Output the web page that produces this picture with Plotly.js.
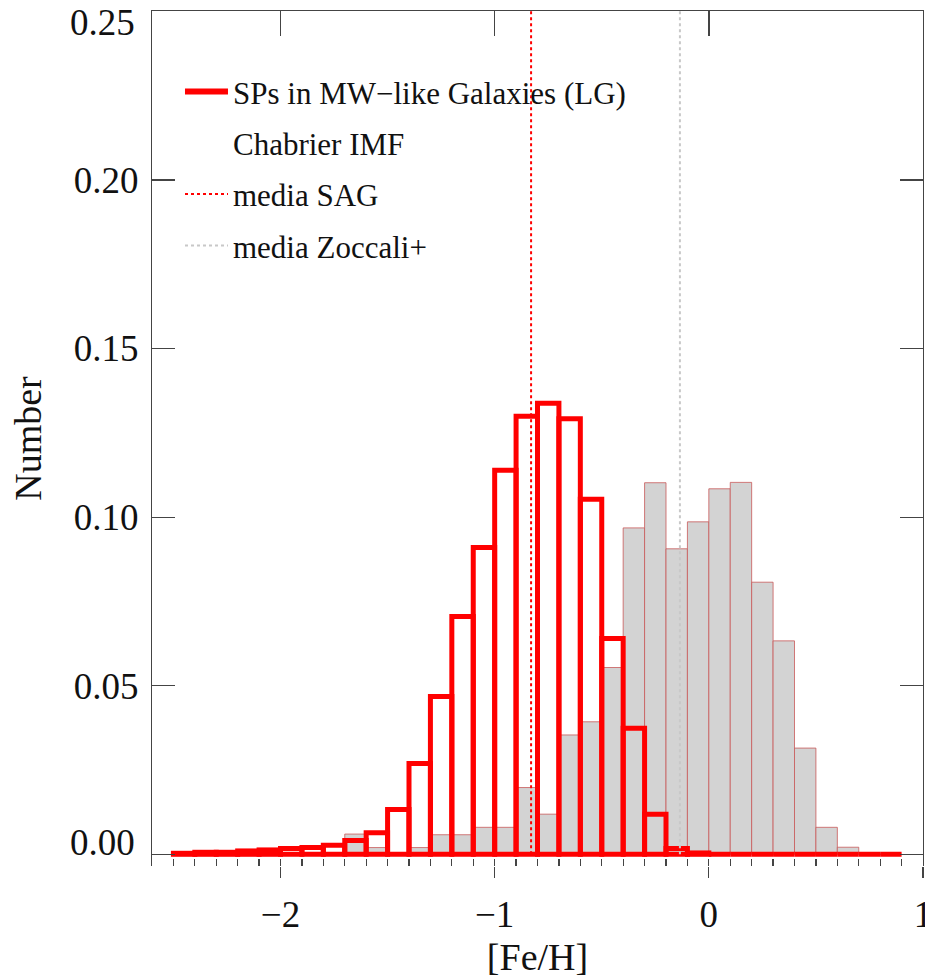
<!DOCTYPE html>
<html><head><meta charset="utf-8">
<script src="https://cdn.plot.ly/plotly-3.0.1.min.js"></script>
<style>html,body{margin:0;padding:0;background:#fff;} #chart{width:925px;height:978px;}</style>
</head><body><div id="chart"></div>
<script>
// [Fe/H] bin centres (bin width 0.1)
const binCenters = [-2.45,-2.35,-2.25,-2.15,-2.05,-1.95,-1.85,-1.75,-1.65,-1.55,-1.45,-1.35,-1.25,-1.15,-1.05,-0.95,-0.85,-0.75,-0.65,-0.55,-0.45,-0.35,-0.25,-0.15,-0.05,0.05,0.15,0.25,0.35,0.45,0.55,0.65,0.75,0.85];
// SAG model (red outlined histogram)
const sagValues = [0.0003,0.0006,0.0006,0.0010,0.0013,0.0017,0.0020,0.0027,0.0041,0.0064,0.0133,0.0269,0.0468,0.0705,0.0910,0.1139,0.1299,0.1338,0.1292,0.1053,0.0640,0.0374,0.0119,0.0017,0.0004,0,0,0,0,0,0,0,0,0];
// Zoccali+ observations (grey histogram)
const zoccaliValues = [0,0,0,0,0,0,0,0,0.0060,0.0020,0.0003,0.0020,0.0058,0.0058,0.0080,0.0080,0.0198,0.0119,0.0354,0.0393,0.0554,0.0968,0.1102,0.0906,0.0986,0.1084,0.1103,0.0807,0.0633,0.0315,0.0080,0.0021,0,0];
const meanSAG = -0.83;
const meanZoccali = -0.135;
const meanLineY = [0, 0.25];
const binWidth = 0.1;
const xRange = [-2.6, 1.0];
const yRange = [-0.00347, 0.2501];
const xTickVals = [-2,-1,0,1];
const xTickText = ['\u22122','\u22121','0','1'];
const xMinorTickVals = [-2.5,-2.4,-2.3,-2.2,-2.1,-2.0,-1.9,-1.8,-1.7,-1.6,-1.5,-1.4,-1.3,-1.2,-1.1,-1.0,-0.9,-0.8,-0.7,-0.6,-0.5,-0.4,-0.3,-0.2,-0.1,0,0.1,0.2,0.3,0.4,0.5,0.6,0.7,0.8,0.9];
const xTopTickVals = [-2,-1,0];
const yTickVals = [0,0.05,0.10,0.15,0.20,0.25];
const seriesNames = ['SPs in MW\u2212like Galaxies (LG)','Chabrier IMF','media SAG','media Zoccali+'];

const FONT = 'Liberation Serif, Times New Roman, serif';
const AX = '#444';
const TXT = '#111';

// the two end labels sit inside the frame in the reference, so they are placed as annotations
const lastY = yTickVals.length - 1;
const yTickText = yTickVals.map((v, i) => (i === 0 || i === lastY) ? '' : v.toFixed(2));
const edgeLabels = [
  {val: yTickVals[0], shift: 12},
  {val: yTickVals[lastY], shift: -11.5}
].map(e => ({xref:'paper', yref:'y', x:0, y:e.val, xanchor:'right', yanchor:'middle', xshift:-15, yshift:e.shift,
             text:e.val.toFixed(2), showarrow:false, font:{family:FONT, size:37, color:TXT}}));

const traces = [
  {type:'bar', x:binCenters, y:zoccaliValues, width:binWidth, showlegend:false, hoverinfo:'x+y',
   marker:{color:'#d3d3d3', line:{color:'rgba(200,90,90,0.8)', width:1}}},
  {type:'bar', x:binCenters, y:sagValues, width:binWidth, showlegend:false, hoverinfo:'x+y',
   marker:{color:'rgba(0,0,0,0)', line:{color:'#ff0000', width:5}}},
  {type:'scatter', mode:'lines', x:[null], y:[null], name:seriesNames[0], legendgroup:'a', legendrank:1,
   line:{color:'#ff0000', width:6}},
  {type:'scatter', mode:'lines', x:[null], y:[null], name:seriesNames[1], legendgroup:'b', legendrank:2,
   line:{color:'rgba(0,0,0,0)', width:1}},
  {type:'scatter', mode:'lines', xaxis:'x2', x:[meanSAG, meanSAG], y:meanLineY, name:seriesNames[2], legendgroup:'c', legendrank:3,
   line:{color:'#ff0000', width:2, dash:'dot'}},
  {type:'scatter', mode:'lines', xaxis:'x3', x:[meanZoccali, meanZoccali], y:meanLineY, name:seriesNames[3], legendgroup:'d', legendrank:4,
   line:{color:'#c8c8c8', width:2, dash:'dot'}}
];

const layout = {
  width:925, height:978,
  margin:{l:152, r:2, t:11, b:112, autoexpand:false},
  paper_bgcolor:'#fff', plot_bgcolor:'#fff',
  barmode:'overlay', bargap:0,
  font:{family:FONT, color:TXT, size:37},
  showlegend:true,
  legend:{x:0.0363, xanchor:'left', y:0.937, yanchor:'top', bgcolor:'rgba(0,0,0,0)', borderwidth:0,
          font:{family:FONT, size:31, color:TXT}, itemwidth:43, tracegroupgap:8, traceorder:'grouped'},
  annotations: edgeLabels,
  xaxis:{range:xRange, tickmode:'array', tickvals:xTickVals, ticktext:xTickText,
         ticks:'outside', ticklen:11, tickwidth:1.2, tickcolor:AX, showline:false, showgrid:false, zeroline:false,
         tickfont:{family:FONT, size:37, color:TXT}, ticklabelstandoff:5, ticklabeloverflow:'allow',
         title:{text:'[Fe/H]', font:{family:FONT, size:38, color:TXT}, standoff:11}},
  xaxis2:{overlaying:'x', range:xRange, anchor:'y', side:'bottom', tickmode:'array', tickvals:xMinorTickVals,
          ticks:'inside', ticklen:7, tickwidth:1.2, tickcolor:AX, showticklabels:false, showline:false,
          showgrid:false, zeroline:false},
  xaxis3:{overlaying:'x', range:xRange, anchor:'y', side:'top', tickmode:'array', tickvals:xTopTickVals,
          ticks:'inside', ticklen:25, tickwidth:1.4, tickcolor:AX, showticklabels:false, showline:true,
          linecolor:AX, linewidth:1.2, showgrid:false, zeroline:false},
  yaxis:{range:yRange, tickmode:'array', tickvals:yTickVals, ticktext:yTickText,
         ticks:'inside', ticklen:23, tickwidth:1.2, tickcolor:AX, showline:true, linecolor:AX, linewidth:1.2,
         mirror:'ticks', showgrid:false, zeroline:false,
         tickfont:{family:FONT, size:37, color:TXT}, ticklabelstandoff:5,
         title:{text:'Number', font:{family:FONT, size:38, color:TXT}, standoff:20}}
};

Plotly.newPlot('chart', traces, layout, {displayModeBar:false, staticPlot:true});
</script>
</body></html>
